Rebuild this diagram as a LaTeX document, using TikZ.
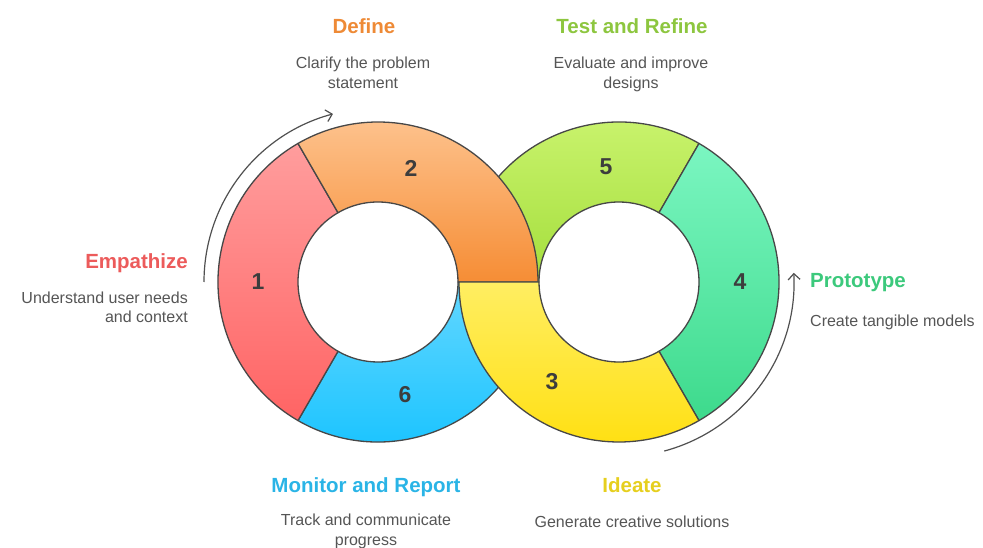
\documentclass[tikz,border=0pt]{standalone}
\usepackage{fontspec}
\setmainfont{Liberation Sans}
\usetikzlibrary{arrows.meta}
\definecolor{edge}{HTML}{474747}
\definecolor{numgray}{HTML}{3D3D3D}
\definecolor{descgray}{HTML}{555555}
\definecolor{arrowgray}{HTML}{505050}
\definecolor{redA}{HTML}{FF9D9D}\definecolor{redB}{HTML}{FF6464}
\definecolor{orA}{HTML}{FDC18B}\definecolor{orB}{HTML}{F68D35}
\definecolor{limeA}{HTML}{CDF572}\definecolor{limeB}{HTML}{A4DE3C}
\definecolor{grA}{HTML}{7BF6C1}\definecolor{grB}{HTML}{3DDA8C}
\definecolor{yeA}{HTML}{FFEE62}\definecolor{yeB}{HTML}{FFE014}
\definecolor{blA}{HTML}{63D7FF}\definecolor{blB}{HTML}{14C2FF}
\definecolor{tRed}{HTML}{EC5B5B}
\definecolor{tOrange}{HTML}{EE8A36}
\definecolor{tLime}{HTML}{8DC63F}
\definecolor{tGreen}{HTML}{3CC97C}
\definecolor{tBlue}{HTML}{2AB4E6}
\definecolor{tYellow}{HTML}{E6CF1E}
% one coloured piece of a ring: centre, start angle, end angle, top colour, bottom colour
\newcommand\ringpart[5]{%
  \path[seg,top color=#4,bottom color=#5]
    ([shift={(#2:160)}]#1) arc[start angle=#2,end angle=#3,radius=160]
    -- ([shift={(#3:80)}]#1) arc[start angle=#3,end angle=#2,radius=80] -- cycle;}
\begin{document}
\begin{tikzpicture}[x=1pt,y=1pt,
  seg/.style={draw=edge,line width=1.3pt,line join=round},
  num/.style={font=\fontsize{23}{23}\selectfont\bfseries,text=numgray,anchor=center},
  title/.style={font=\fontsize{20.5}{24}\selectfont\bfseries,anchor=base,inner sep=0pt},
  desc/.style={font=\fontsize{16}{20}\selectfont,text=descgray,anchor=base,inner sep=0pt},
  flow/.style={draw=arrowgray,line width=1.2pt,-{Straight Barb[length=6pt,width=12pt]}}]
\useasboundingbox (0,0) rectangle (983,547);
\coordinate (L) at (378,265);
\coordinate (R) at (619,265);

% rings, lower layers first
\ringpart{R}{60}{180}{limeA}{limeB}
\ringpart{L}{240}{360}{blA}{blB}
\ringpart{L}{120}{240}{redA}{redB}
\ringpart{R}{-60}{60}{grA}{grB}
\ringpart{L}{0}{120}{orA}{orB}
\ringpart{R}{180}{300}{yeA}{yeB}

% step numbers
\node[num] (n1) at (258,265) {1};
\node[num] (n2) at (411,379) {2};
\node[num] (n3) at (552,165) {3};
\node[num] (n4) at (740,265) {4};
\node[num] (n5) at (606,380) {5};
\node[num] (n6) at (405,152) {6};

% direction arrows
\draw[flow] ([shift={(180:174)}]L) arc[start angle=180,end angle=105,radius=174];
\draw[flow] ([shift={(-75:175)}]R) arc[start angle=-75,end angle=3,radius=175];

% labels
\node[title,text=tOrange] (tDefine) at (364,513) {Define};
\node[desc] (dDefineA) at (363,478) {Clarify the problem};
\node[desc] (dDefineB) at (363,458) {statement};

\node[title,text=tLime] (tTest) at (632,513) {Test and Refine};
\node[desc] (dTestA) at (631,478) {Evaluate and improve};
\node[desc] (dTestB) at (631,458) {designs};

\node[title,text=tRed,anchor=base east] (tEmp) at (188,278) {Empathize};
\node[desc,anchor=base east] (dEmpA) at (188,243) {Understand user needs};
\node[desc,anchor=base east] (dEmpB) at (188,224) {and context};

\node[title,text=tGreen,anchor=base west] (tProto) at (810,259) {Prototype};
\node[desc,anchor=base west] (dProto) at (810,220) {Create tangible models};

\node[title,text=tBlue] (tMon) at (366,55) {Monitor and Report};
\node[desc] (dMonA) at (366,22) {Track and communicate};
\node[desc] (dMonB) at (366,2) {progress};

\node[title,text=tYellow] (tIdea) at (632,55) {Ideate};
\node[desc] (dIdea) at (632,20) {Generate creative solutions};
\end{tikzpicture}
\end{document}
